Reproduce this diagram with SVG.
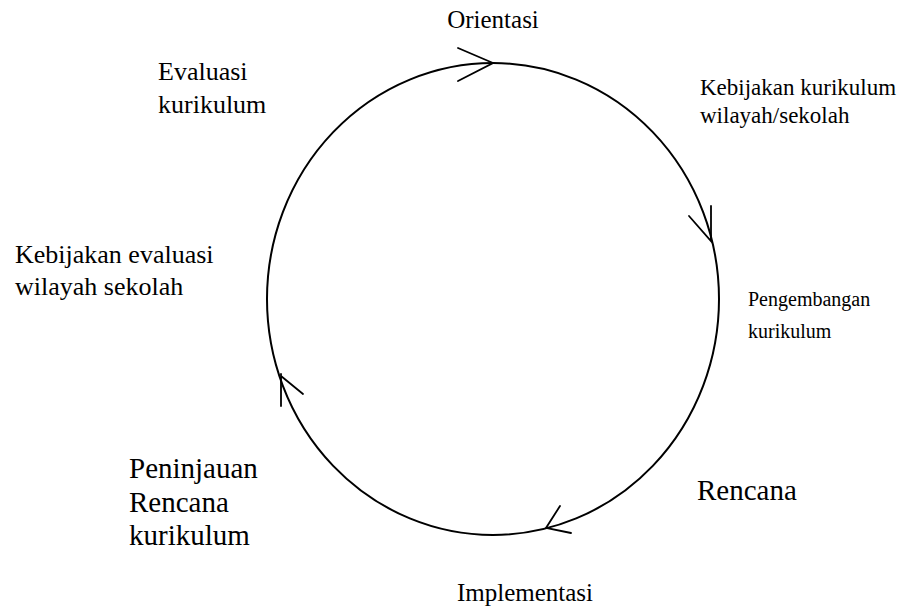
<svg xmlns="http://www.w3.org/2000/svg" width="905" height="609" viewBox="0 0 905 609">
<style>
.t{font-family:"Liberation Serif","Times New Roman","DejaVu Serif",serif;fill:#000}
.ln{fill:none;stroke:#000;stroke-width:2;stroke-linecap:round}
.ar{fill:none;stroke:#000;stroke-width:1.8;stroke-linecap:round}
</style>
<rect width="905" height="609" fill="#fff"/>
<g id="cycle">
<ellipse class="ln" cx="493" cy="299" rx="226" ry="236"/>
</g>
<g id="connectors">
<path class="ar" d="M458,48 L493,63 L458,81"/>
<path class="ar" d="M711,206 L711,241 L689,216"/>
<path class="ar" d="M281,406 L281,374 M281,376 L303,394"/>
<path class="ar" d="M560,506 L546,528 L571,533"/>
</g>
<g id="n-orientasi"><text class="t" x="493" y="28" font-size="25" text-anchor="middle">Orientasi</text></g>
<g id="n-kebijakan-kurikulum"><text class="t" x="700" y="95" font-size="23">Kebijakan kurikulum</text><text class="t" x="700" y="123" font-size="23">wilayah/sekolah</text></g>
<g id="n-pengembangan"><text class="t" x="748" y="306" font-size="20">Pengembangan</text><text class="t" x="748" y="338" font-size="20">kurikulum</text></g>
<g id="n-rencana"><text class="t" x="697" y="500" font-size="29">Rencana</text></g>
<g id="n-implementasi"><text class="t" x="525" y="601" font-size="25" text-anchor="middle">Implementasi</text></g>
<g id="n-peninjauan"><text class="t" x="129" y="478" font-size="29">Peninjauan</text><text class="t" x="129" y="512" font-size="29">Rencana</text><text class="t" x="129" y="545" font-size="29">kurikulum</text></g>
<g id="n-kebijakan-evaluasi"><text class="t" x="15" y="263" font-size="26">Kebijakan evaluasi</text><text class="t" x="15" y="295" font-size="26">wilayah sekolah</text></g>
<g id="n-evaluasi"><text class="t" x="158" y="80" font-size="26">Evaluasi</text><text class="t" x="158" y="113" font-size="26">kurikulum</text></g>
</svg>
